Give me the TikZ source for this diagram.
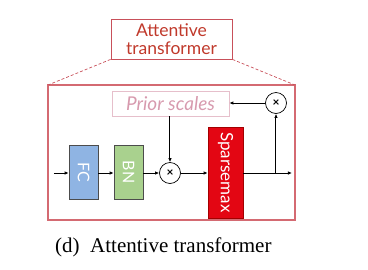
\documentclass[tikz,border=0pt]{standalone}
\usepackage{fontspec}
\setmainfont{Liberation Serif}
\setsansfont{Lato}
\usetikzlibrary{arrows.meta}
\definecolor{tred}{HTML}{C0392B}
\definecolor{tborder}{HTML}{C8505A}
\definecolor{bigborder}{HTML}{D46A72}
\definecolor{pinkline}{HTML}{E6BFCB}
\definecolor{pinktext}{HTML}{D79AAE}
\definecolor{fcblue}{HTML}{8FB4E3}
\definecolor{bngreen}{HTML}{A9D18E}
\definecolor{spred}{HTML}{E30613}
\definecolor{spborder}{HTML}{A30000}
\tikzset{
  blk/.style={draw=black!70, line width=0.6pt, minimum width=29pt, minimum height=54pt, inner sep=0pt, text=white, font=\sffamily\fontsize{16}{16}\selectfont},
  mult/.style={circle, draw=black, line width=0.7pt, minimum size=21pt, inner sep=0pt, font=\sffamily\bfseries\fontsize{12}{12}\selectfont},
  arr/.style={-{Latex[length=4pt,width=3.5pt]}, line width=1pt, black},
}
\begin{document}
\begin{tikzpicture}[x=1pt,y=-1pt]
\useasboundingbox (0,0) rectangle (368,269);
% title box
\node[draw=tborder, line width=0.8pt, minimum width=121pt, minimum height=40pt, inner sep=0pt, align=center, text=tred, font=\sffamily\fontsize{17.5}{18}\selectfont] (title) at (171.5,39) {Attentive\\transformer};
% big box
\draw[bigborder, line width=1.3pt] (48,85) rectangle (295,220);
\coordinate (bl) at (48,85);
\coordinate (br) at (295,85);
\draw[tborder, line width=0.7pt, dash pattern=on 3pt off 2pt] (title.south west) -- (bl);
\draw[tborder, line width=0.7pt, dash pattern=on 3pt off 2pt] (title.south east) -- (br);
% prior scales
\node[draw=pinkline, line width=0.8pt, minimum width=117pt, minimum height=25pt, inner sep=0pt, text=pinktext, font=\sffamily\itshape\fontsize{19}{19}\selectfont] (prior) at (170.5,103.5) {Prior scales};
% blocks
\node[blk, fill=fcblue] (fc) at (83.5,172) {\rotatebox{-90}{FC}};
\node[blk, fill=bngreen] (bn) at (128.5,172) {\rotatebox{-90}{BN}};
\node[mult] (m1) at (170,173) {×};
\node[blk, fill=spred, draw=spborder, minimum width=35pt, minimum height=91pt, font=\sffamily\fontsize{17}{17}\selectfont] (sp) at (225.5,172.5) {\rotatebox{-90}{Sparsemax}};
\node[mult] (m2) at (276,103) {×};
\coordinate (in) at (54,173);
\coordinate (out) at (292,173);
\coordinate (br1) at (276,173);
% connectors
\draw[arr] (in) -- (fc.west |- in);
\draw[arr] (fc.east |- in) -- (bn.west |- in);
\draw[arr] (bn.east |- in) -- (m1.west);
\draw[arr] (m1.east) -- (sp.west |- m1);
\draw[arr] (prior.south -| m1) -- (m1.north);
\draw[arr] (sp.east |- in) -- (out);
\draw[arr] (br1) -- (m2.south);
\draw[arr] (m2.west) -- (prior.east |- m2);
% caption
\node[font=\fontsize{21}{21}\selectfont, anchor=west, inner sep=0pt] (cap) at (55,247) {(d)\ \ Attentive transformer};
\end{tikzpicture}
\end{document}
